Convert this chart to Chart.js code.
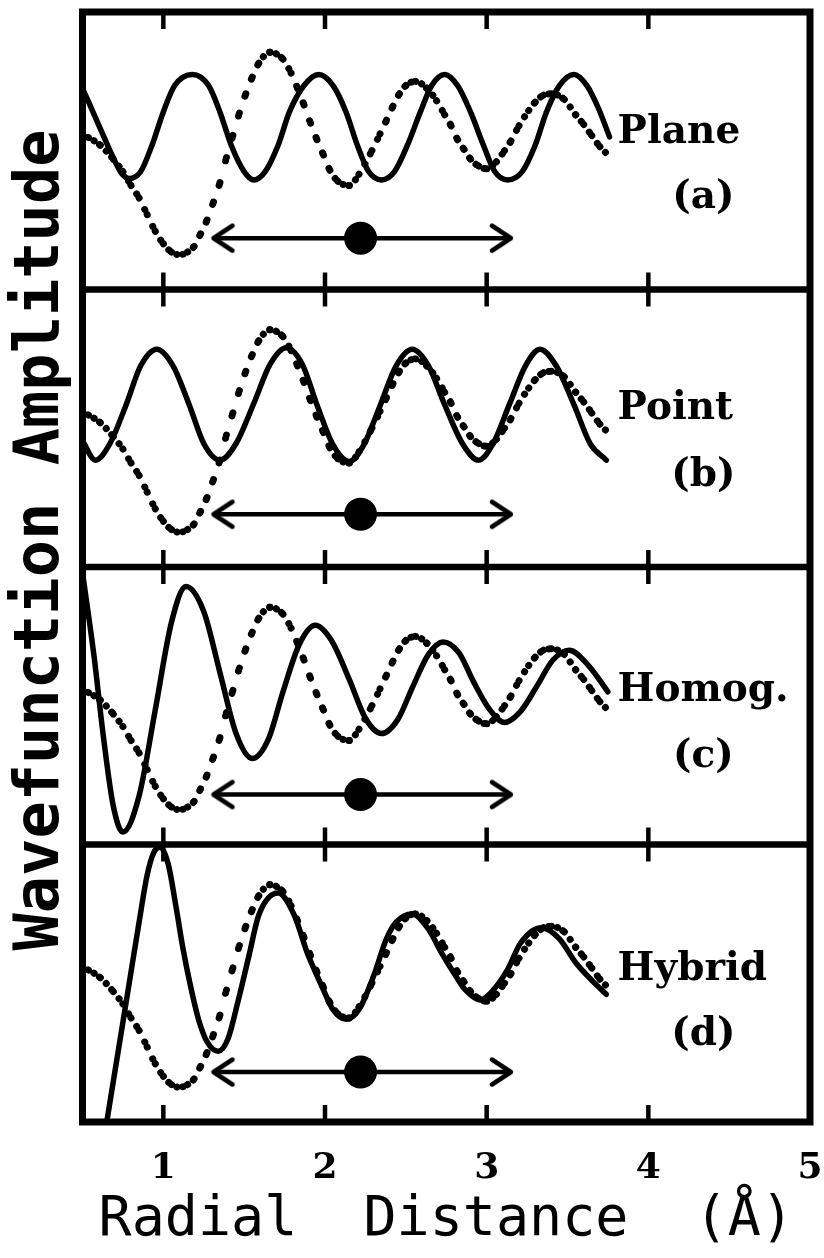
<!DOCTYPE html>
<html>
<head>
<meta charset="utf-8">
<title>Wavefunction amplitude vs radial distance</title>
<script src="https://cdn.jsdelivr.net/npm/chart.js@4"></script>
<style>
  html, body { margin: 0; padding: 0; background: #fff; }
  #wrap { width: 824px; height: 1258px; }
</style>
</head>
<body>
<div id="wrap"><canvas id="chart" width="824" height="1258"></canvas></div>
<script>
// dotted curve: the same reference wavefunction in all four panels
const exactX = [0.50, 0.61, 0.69, 0.75, 0.80, 0.85, 0.90, 0.95, 1.00, 1.05, 1.10, 1.15, 1.19, 1.23, 1.27,
  1.31, 1.35, 1.39, 1.43, 1.47, 1.51, 1.55, 1.59, 1.66, 1.74, 1.79, 1.83, 1.87, 1.91, 1.95,
  1.99, 2.03, 2.08, 2.15, 2.21, 2.29, 2.34, 2.38, 2.42, 2.46, 2.50, 2.56, 2.63, 2.69, 2.74,
  2.78, 2.82, 2.86, 2.90, 2.95, 3.00, 3.06, 3.11, 3.15, 3.20, 3.26, 3.30, 3.35, 3.40, 3.48,
  3.55, 3.60, 3.65, 3.70, 3.76];
const exactY = [0.12, 0.04, -0.06, -0.15, -0.25, -0.34, -0.46, -0.58, -0.67, -0.73, -0.75, -0.73, -0.69, -0.60, -0.50,
  -0.37, -0.23, -0.05, 0.11, 0.27, 0.41, 0.53, 0.63, 0.71, 0.66, 0.56, 0.45, 0.33, 0.20, 0.08,
  -0.03, -0.14, -0.22, -0.25, -0.17, 0.00, 0.12, 0.22, 0.32, 0.41, 0.47, 0.50, 0.45, 0.36, 0.26,
  0.18, 0.08, 0.01, -0.06, -0.11, -0.13, -0.08, 0.00, 0.07, 0.18, 0.29, 0.35, 0.40, 0.41, 0.37,
  0.26, 0.19, 0.11, 0.03, -0.04];

// solid curves, one per panel
const planeX = [0.50, 0.61, 0.69, 0.74, 0.79, 0.86, 0.93, 1.00, 1.07, 1.18, 1.28, 1.35, 1.42, 1.50, 1.56,
  1.63, 1.71, 1.78, 1.87, 1.96, 2.05, 2.13, 2.20, 2.27, 2.35, 2.43, 2.51, 2.59, 2.66, 2.74,
  2.82, 2.90, 2.98, 3.05, 3.13, 3.22, 3.30, 3.37, 3.45, 3.54, 3.62, 3.69, 3.76];
const planeY = [0.45, 0.16, -0.05, -0.16, -0.20, -0.15, 0.04, 0.28, 0.47, 0.55, 0.47, 0.28, 0.04, -0.15, -0.21,
  -0.15, 0.04, 0.28, 0.47, 0.55, 0.47, 0.28, 0.04, -0.15, -0.21, -0.15, 0.04, 0.28, 0.47, 0.55,
  0.47, 0.28, 0.04, -0.15, -0.21, -0.15, 0.04, 0.28, 0.47, 0.55, 0.47, 0.31, 0.10];

const pointX = [0.50, 0.58, 0.67, 0.77, 0.86, 0.96, 1.06, 1.16, 1.25, 1.35, 1.45, 1.56, 1.66, 1.76, 1.86,
  1.95, 2.05, 2.15, 2.24, 2.34, 2.44, 2.54, 2.64, 2.74, 2.85, 2.95, 3.04, 3.14, 3.24, 3.33,
  3.43, 3.54, 3.64, 3.74];
const pointY = [-0.09, -0.23, -0.11, 0.17, 0.45, 0.57, 0.45, 0.17, -0.11, -0.23, -0.11, 0.18, 0.46, 0.58, 0.46,
  0.17, -0.12, -0.24, -0.12, 0.16, 0.45, 0.57, 0.45, 0.17, -0.11, -0.23, -0.11, 0.17, 0.45, 0.57,
  0.45, 0.17, -0.11, -0.23];

const homogX = [0.50, 0.57, 0.63, 0.69, 0.75, 0.85, 0.95, 1.05, 1.14, 1.25, 1.35, 1.45, 1.55, 1.65, 1.74,
  1.84, 1.94, 2.04, 2.15, 2.25, 2.35, 2.45, 2.54, 2.64, 2.73, 2.83, 2.92, 3.02, 3.11, 3.21,
  3.31, 3.41, 3.51, 3.63, 3.75];
const homogY = [0.96, 0.37, -0.23, -0.72, -0.91, -0.65, -0.03, 0.60, 0.86, 0.68, 0.24, -0.20, -0.38, -0.24, 0.10,
  0.44, 0.58, 0.47, 0.19, -0.09, -0.20, -0.10, 0.13, 0.37, 0.46, 0.38, 0.17, -0.03, -0.12, -0.04,
  0.14, 0.33, 0.40, 0.29, 0.10];

const hybridX = [0.65, 0.70, 0.75, 0.80, 0.85, 0.90, 0.94, 0.98, 1.03, 1.08, 1.12, 1.17, 1.22, 1.27, 1.34,
  1.40, 1.46, 1.53, 1.59, 1.71, 1.81, 1.89, 1.98, 2.05, 2.13, 2.21, 2.30, 2.38, 2.44, 2.54,
  2.64, 2.72, 2.81, 2.87, 2.96, 3.04, 3.13, 3.21, 3.34, 3.45, 3.55, 3.66, 3.74];
const hybridY = [-1.00, -0.64, -0.28, 0.08, 0.44, 0.78, 0.94, 0.98, 0.86, 0.54, 0.26, -0.03, -0.27, -0.42, -0.49,
  -0.40, -0.14, 0.20, 0.49, 0.65, 0.49, 0.22, -0.02, -0.19, -0.26, -0.19, 0.05, 0.32, 0.44, 0.50,
  0.39, 0.22, 0.05, -0.05, -0.12, -0.05, 0.10, 0.29, 0.40, 0.32, 0.15, 0.01, -0.08];

// double arrow with the dot in the middle
const arrowX = [1.31, 2.22, 3.15];
const arrowY = [-0.63, -0.62, -0.64, -0.64];

const panelNames = ['Plane', 'Point', 'Homog.', 'Hybrid'];
const panelTags = ['(a)', '(b)', '(c)', '(d)'];
const xTicks = [1, 2, 3, 4, 5];

const panelIds = ['ya', 'yb', 'yc', 'yd'];
const solids = [[planeX, planeY], [pointX, pointY], [homogX, homogY], [hybridX, hybridY]];
const labelAt = { nameX: 3.81, tagX: 4.34, nameY: [0.13, 0.14, 0.11, 0.10], tagY: [-0.34, -0.34, -0.37, -0.37] };

const toPoints = (xs, ys) => xs.map((x, i) => ({ x: x, y: ys[i] }));

function chevron(dir) {
  const c = document.createElement('canvas');
  c.width = 50; c.height = 34;
  const g = c.getContext('2d');
  g.strokeStyle = '#000';
  g.lineWidth = 4.5;
  g.lineCap = 'round';
  g.lineJoin = 'round';
  g.beginPath();
  g.moveTo(25 - dir * 19, 17 - 12.5);
  g.lineTo(25, 17);
  g.lineTo(25 - dir * 19, 17 + 12.5);
  g.stroke();
  return c;
}
const chevLeft = chevron(-1);
const chevRight = chevron(1);

// dots evenly spaced along x, like the original plotter
function dotDash(ctx) {
  const dx = Math.abs(ctx.p1.x - ctx.p0.x) || 1;
  const dy = ctx.p1.y - ctx.p0.y;
  return [0.1, Math.max(4, 5.6 * Math.hypot(dx, dy) / dx)];
}

const datasets = [];
panelIds.forEach((id, i) => {
  datasets.push({
    label: 'exact ' + panelTags[i],
    data: toPoints(exactX, exactY),
    yAxisID: id,
    borderColor: '#000',
    borderWidth: 7,
    borderCapStyle: 'round',
    cubicInterpolationMode: 'monotone',
    pointRadius: 0,
    segment: { borderDash: dotDash }
  });
  datasets.push({
    label: panelNames[i],
    data: toPoints(solids[i][0], solids[i][1]),
    yAxisID: id,
    borderColor: '#000',
    borderWidth: 5.5,
    borderCapStyle: 'round',
    borderJoinStyle: 'round',
    cubicInterpolationMode: 'monotone',
    pointRadius: 0
  });
  datasets.push({
    label: 'range ' + panelTags[i],
    data: arrowX.map(x => ({ x: x, y: arrowY[i] })),
    yAxisID: id,
    borderColor: '#000',
    borderWidth: 4.5,
    tension: 0,
    pointStyle: [chevLeft, 'circle', chevRight],
    pointRadius: [5, 16.5, 5],
    pointBackgroundColor: '#000',
    pointBorderWidth: 0
  });
});

const yScale = () => ({
  type: 'linear',
  position: 'left',
  stack: 'panels',
  stackWeight: 1,
  min: -1,
  max: 1,
  ticks: { display: false },
  grid: { display: false },
  border: { display: false },
  afterFit: s => { s.width = 82.5; }
});

const panelFrame = {
  id: 'panelFrame',
  afterDraw(chart) {
    const { ctx, chartArea: a, scales } = chart;
    const xs = scales.x;
    const seg = (x1, y1, x2, y2) => { ctx.beginPath(); ctx.moveTo(x1, y1); ctx.lineTo(x2, y2); ctx.stroke(); };
    ctx.save();
    ctx.strokeStyle = '#000';
    ctx.lineCap = 'butt';
    ctx.lineWidth = 7;
    ctx.strokeRect(a.left, a.top, a.right - a.left, a.bottom - a.top);
    ctx.lineWidth = 6.5;
    panelIds.slice(0, -1).forEach(id => seg(a.left, scales[id].bottom, a.right, scales[id].bottom));
    ctx.lineWidth = 4.5;
    panelIds.forEach(id => {
      const s = scales[id];
      xTicks.slice(0, -1).forEach(v => {
        const px = xs.getPixelForValue(v);
        seg(px, s.top, px, s.top + 17);
        seg(px, s.bottom, px, s.bottom - 17);
      });
    });

    ctx.fillStyle = '#000';
    ctx.font = 'bold 39px "DejaVu Serif"';
    ctx.textBaseline = 'middle';
    panelIds.forEach((id, i) => {
      const s = scales[id];
      ctx.textAlign = 'left';
      ctx.fillText(panelNames[i], xs.getPixelForValue(labelAt.nameX), s.getPixelForValue(labelAt.nameY[i]));
      ctx.textAlign = 'center';
      ctx.fillText(panelTags[i], xs.getPixelForValue(labelAt.tagX), s.getPixelForValue(labelAt.tagY[i]));
    });

    ctx.translate(58, (a.top + a.bottom) / 2 - 27);
    ctx.rotate(-Math.PI / 2);
    ctx.font = 'bold 62px "DejaVu Sans Mono"';
    ctx.textAlign = 'center';
    ctx.textBaseline = 'alphabetic';
    ctx.fillText('Wavefunction Amplitude', 0, 0);
    ctx.restore();
  }
};

new Chart(document.getElementById('chart'), {
  type: 'line',
  data: { datasets: datasets },
  options: {
    responsive: false,
    animation: false,
    devicePixelRatio: 1,
    events: [],
    layout: { padding: { top: 12, right: 14, bottom: 0, left: 0 } },
    plugins: { legend: { display: false }, tooltip: { enabled: false } },
    scales: {
      x: {
        type: 'linear',
        position: 'bottom',
        min: 0.5,
        max: 5,
        afterFit: s => { s.height = 136; },
        grid: { display: false },
        border: { display: false },
        ticks: {
          stepSize: 1,
          includeBounds: false,
          padding: 0,
          color: '#000',
          font: { family: 'DejaVu Serif', weight: 'bold', size: 36, lineHeight: 2.12 }
        },
        title: {
          display: true,
          text: 'Radial  Distance  (Å)',
          color: '#000',
          padding: { top: 0, bottom: 4 },
          font: { family: 'DejaVu Sans Mono', size: 55, lineHeight: 1.2 }
        }
      },
      yd: yScale(),
      yc: yScale(),
      yb: yScale(),
      ya: yScale()
    }
  },
  plugins: [panelFrame]
});
</script>
</body>
</html>
